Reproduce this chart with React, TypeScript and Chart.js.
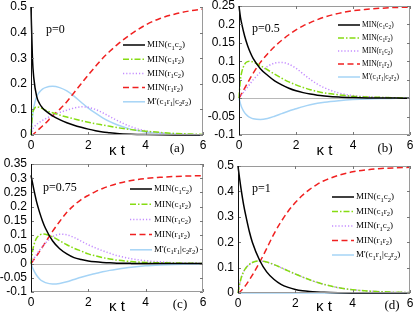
import React, { useEffect, useRef } from "react";
import { Chart, registerables } from "chart.js";
Chart.register(...registerables);

// ---- data ----
const kappaT = [0, 0.05, 0.1, 0.2, 0.3, 0.4, 0.5, 0.75, 1, 1.25, 1.5, 1.75, 2, 2.25, 2.5, 2.75, 3, 3.5, 4, 4.5, 5, 5.5, 6];

// p = 0
const p0_MIN_c1c2 = [0.5, 0.3, 0.22, 0.15, 0.122, 0.106, 0.095, 0.075, 0.06, 0.048, 0.038, 0.03, 0.023, 0.017, 0.012, 0.009, 0.006, 0.003, 0.0015, 0.0007, 0.0003, 0.0001, 0];
const p0_MIN_c1r2 = [0, 0.08, 0.1, 0.11, 0.108, 0.103, 0.097, 0.087, 0.078, 0.07, 0.063, 0.056, 0.05, 0.044, 0.039, 0.034, 0.029, 0.021, 0.015, 0.01, 0.006, 0.004, 0.002];
const p0_MIN_r1c2 = [0, 0.02, 0.03, 0.042, 0.05, 0.057, 0.063, 0.077, 0.088, 0.097, 0.105, 0.11, 0.108, 0.1, 0.087, 0.072, 0.057, 0.032, 0.016, 0.008, 0.004, 0.002, 0.001];
const p0_MIN_r1r2 = [0, 0, 0.005, 0.015, 0.025, 0.035, 0.045, 0.075, 0.1, 0.13, 0.165, 0.2, 0.235, 0.268, 0.3, 0.327, 0.352, 0.395, 0.43, 0.455, 0.472, 0.484, 0.492];
const p0_Mprime = [0, 0.07, 0.11, 0.15, 0.168, 0.179, 0.185, 0.19, 0.185, 0.172, 0.152, 0.128, 0.105, 0.085, 0.067, 0.052, 0.04, 0.022, 0.012, 0.007, 0.004, 0.002, 0.001];

// p = 0.5
const p05_MIN_c1c2 = [0.25, 0.22, 0.2, 0.168, 0.143, 0.123, 0.107, 0.08, 0.062, 0.047, 0.036, 0.027, 0.02, 0.015, 0.011, 0.008, 0.006, 0.003, 0.0015, 0.0007, 0.0003, 0.0001, 0];
const p05_MIN_c1r2 = [0, 0.05, 0.072, 0.092, 0.099, 0.1, 0.098, 0.088, 0.077, 0.065, 0.054, 0.044, 0.036, 0.029, 0.023, 0.018, 0.014, 0.009, 0.005, 0.003, 0.002, 0.001, 0.0005];
const p05_MIN_r1c2 = [0, 0.005, 0.01, 0.02, 0.03, 0.04, 0.05, 0.07, 0.086, 0.095, 0.097, 0.092, 0.081, 0.066, 0.051, 0.038, 0.028, 0.014, 0.007, 0.004, 0.002, 0.001, 0.0005];
const p05_MIN_r1r2 = [0, 0.006, 0.013, 0.027, 0.041, 0.055, 0.068, 0.097, 0.12, 0.14, 0.157, 0.172, 0.185, 0.196, 0.205, 0.213, 0.22, 0.23, 0.237, 0.241, 0.244, 0.246, 0.247];
const p05_Mprime = [0, -0.015, -0.026, -0.04, -0.048, -0.053, -0.056, -0.058, -0.055, -0.049, -0.042, -0.035, -0.029, -0.023, -0.018, -0.014, -0.011, -0.007, -0.004, -0.002, -0.001, -0.0005, 0];

// p = 0.75
const p075_MIN_c1c2 = [0.31, 0.285, 0.26, 0.215, 0.18, 0.15, 0.125, 0.08, 0.052, 0.034, 0.021, 0.014, 0.009, 0.006, 0.004, 0.0025, 0.0015, 0.0006, 0.0002, 0.0001, 0, 0, 0];
const p075_MIN_c1r2 = [0, 0.04, 0.065, 0.09, 0.1, 0.104, 0.103, 0.094, 0.08, 0.066, 0.054, 0.044, 0.034, 0.027, 0.021, 0.016, 0.012, 0.007, 0.004, 0.003, 0.002, 0.001, 0.0005];
const p075_MIN_r1c2 = [0, 0.008, 0.017, 0.033, 0.047, 0.06, 0.072, 0.094, 0.103, 0.101, 0.092, 0.079, 0.066, 0.055, 0.045, 0.036, 0.028, 0.017, 0.01, 0.006, 0.003, 0.002, 0.001];
const p075_MIN_r1r2 = [0, 0.007, 0.014, 0.028, 0.043, 0.058, 0.074, 0.113, 0.148, 0.18, 0.205, 0.225, 0.24, 0.253, 0.264, 0.273, 0.281, 0.292, 0.299, 0.303, 0.306, 0.308, 0.309];
const p075_Mprime = [0, -0.014, -0.025, -0.042, -0.054, -0.062, -0.067, -0.072, -0.07, -0.064, -0.056, -0.048, -0.041, -0.035, -0.029, -0.024, -0.02, -0.013, -0.008, -0.005, -0.003, -0.002, -0.001];

// p = 1
const p1_MIN_c1c2 = [0.5, 0.455, 0.415, 0.345, 0.29, 0.24, 0.2, 0.13, 0.083, 0.054, 0.034, 0.022, 0.014, 0.009, 0.006, 0.004, 0.0025, 0.001, 0.0004, 0.0002, 0.0001, 0, 0];
const p1_MIN_c1r2 = [0, 0.03, 0.055, 0.085, 0.102, 0.113, 0.12, 0.126, 0.122, 0.112, 0.1, 0.087, 0.075, 0.063, 0.052, 0.042, 0.034, 0.021, 0.013, 0.008, 0.005, 0.003, 0.002];
const p1_MIN_r1c2 = [0, 0.03, 0.055, 0.085, 0.102, 0.113, 0.12, 0.126, 0.122, 0.112, 0.1, 0.087, 0.075, 0.063, 0.052, 0.042, 0.034, 0.021, 0.013, 0.008, 0.005, 0.003, 0.002];
const p1_MIN_r1r2 = [0, 0.003, 0.008, 0.02, 0.035, 0.052, 0.07, 0.12, 0.175, 0.232, 0.28, 0.322, 0.356, 0.385, 0.408, 0.427, 0.442, 0.463, 0.477, 0.485, 0.49, 0.493, 0.495];
const p1_Mprime = [0, 0, 0, 0, 0, 0, 0, 0, 0, 0, 0, 0, 0, 0, 0, 0, 0, 0, 0, 0, 0, 0, 0];

const seriesLabels = ["MIN(c_1c_2)", "MIN(c_1r_2)", "MIN(r_1c_2)", "MIN(r_1r_2)", "M'(c_1r_1|c_2r_2)"];
const pLabels = ["p=0", "p=0.5", "p=0.75", "p=1"];
const panelLetters = ["(a)", "(b)", "(c)", "(d)"];
const xAxisTitle = "κ t";

// ---- styles ----
const seriesColors = ["#000000", "#86dc12", "#c48cff", "#f02020", "#a6d4f6"];
const seriesDash: number[][] = [[], [6, 2, 1.5, 2], [1.2, 2], [6, 3.5], []];

const SANS = '"Liberation Sans", Arial, Helvetica, sans-serif';
const SERIF = '"Liberation Serif", "Times New Roman", Times, serif';

type Panel = {
  series: number[][];
  yMin: number; yMax: number; yStep: number; zeroLine: boolean; topBorder: boolean;
  box: { x: number; y: number; w: number; h: number };
  area: { l: number; t: number; r: number; b: number };
  legend: { x: number; y: number; dy: number; size: number };
  pPos: { x: number; y: number };
  letterPos: { x: number; y: number };
  titleY: number;
  idx: number;
};

const panels: Panel[] = [
  {
    idx: 0,
    series: [p0_MIN_c1c2, p0_MIN_c1r2, p0_MIN_r1c2, p0_MIN_r1r2, p0_Mprime],
    yMin: 0, yMax: 0.5, yStep: 0.1, zeroLine: false, topBorder: false,
    box: { x: 0, y: 0, w: 207, h: 158 },
    area: { l: 31, t: 7, r: 203, b: 135 },
    legend: { x: 123, y: 45, dy: 14.2, size: 9 },
    pPos: { x: 46, y: 30 },
    letterPos: { x: 177, y: 149 },
    titleY: 151,
  },
  {
    idx: 1,
    series: [p05_MIN_c1c2, p05_MIN_c1r2, p05_MIN_r1c2, p05_MIN_r1r2, p05_Mprime],
    yMin: -0.1, yMax: 0.25, yStep: 0.05, zeroLine: true, topBorder: true,
    box: { x: 207, y: 0, w: 208, h: 158 },
    area: { l: 239, t: 6, r: 410, b: 135 },
    legend: { x: 338, y: 25, dy: 13, size: 7.5 },
    pPos: { x: 252, y: 29 },
    letterPos: { x: 385, y: 149 },
    titleY: 151,
  },
  {
    idx: 2,
    series: [p075_MIN_c1c2, p075_MIN_c1r2, p075_MIN_r1c2, p075_MIN_r1r2, p075_Mprime],
    yMin: -0.1, yMax: 0.35, yStep: 0.05, zeroLine: true, topBorder: true,
    box: { x: 0, y: 158, w: 207, h: 159 },
    area: { l: 31, t: 164, r: 203, b: 292 },
    legend: { x: 130, y: 189, dy: 15.2, size: 9 },
    pPos: { x: 43, y: 188 },
    letterPos: { x: 180, y: 305 },
    titleY: 307,
  },
  {
    idx: 3,
    series: [p1_MIN_c1c2, p1_MIN_c1r2, p1_MIN_r1c2, p1_MIN_r1r2, p1_Mprime],
    yMin: 0, yMax: 0.5, yStep: 0.1, zeroLine: false, topBorder: true,
    box: { x: 207, y: 158, w: 208, h: 159 },
    area: { l: 238, t: 166, r: 410, b: 293 },
    legend: { x: 332, y: 197, dy: 14.5, size: 9 },
    pPos: { x: 252, y: 189 },
    letterPos: { x: 392, y: 306 },
    titleY: 307,
  },
];

function parseRich(text: string): [string, boolean][] {
  const out: [string, boolean][] = [];
  let buf = "";
  for (let i = 0; i < text.length; i++) {
    if (text[i] === "_" && i + 1 < text.length) {
      if (buf) out.push([buf, false]);
      buf = "";
      out.push([text[i + 1], true]);
      i++;
    } else buf += text[i];
  }
  if (buf) out.push([buf, false]);
  return out;
}

function drawRich(ctx: CanvasRenderingContext2D, text: string, x: number, y: number, size: number) {
  let cx = x;
  for (const [s, sub] of parseRich(text)) {
    const fs = sub ? size * 0.72 : size;
    ctx.font = `${fs}px ${SERIF}`;
    ctx.fillText(s, cx, sub ? y + size * 0.32 : y);
    cx += ctx.measureText(s).width;
  }
}

function PanelChart({ panel }: { panel: Panel }) {
  const ref = useRef<HTMLCanvasElement>(null);
  useEffect(() => {
    const canvas = ref.current!;
    const { box, area } = panel;
    const overlay = {
      id: "overlay" + panel.idx,
      beforeDatasetsDraw(chart: any) {
        if (!panel.zeroLine) return;
        const { ctx, chartArea } = chart;
        const y0 = Math.round(chart.scales.y.getPixelForValue(0)) + 0.5;
        ctx.save();
        ctx.strokeStyle = "#b8b8b8";
        ctx.lineWidth = 1;
        ctx.beginPath();
        ctx.moveTo(chartArea.left, y0);
        ctx.lineTo(chartArea.right, y0);
        ctx.stroke();
        ctx.restore();
      },
      afterDatasetsDraw(chart: any) {
        const { ctx, chartArea } = chart;
        const { left, right, top, bottom } = chartArea;
        ctx.save();
        ctx.lineWidth = 1;
        ctx.strokeStyle = "#9a9a9a";
        ctx.beginPath();
        if (panel.topBorder) {
          ctx.moveTo(left, top + 0.5);
          ctx.lineTo(right - 0.5, top + 0.5);
        } else {
          ctx.moveTo(right - 0.5, top);
        }
        ctx.lineTo(right - 0.5, bottom - 0.5);
        ctx.lineTo(left, bottom - 0.5);
        ctx.stroke();
        // ticks
        ctx.strokeStyle = "#777";
        const ys = chart.scales.y;
        ys.ticks.forEach((t: any) => {
          const py = Math.round(ys.getPixelForValue(t.value)) + 0.5;
          ctx.beginPath();
          ctx.moveTo(left, py); ctx.lineTo(left + 3, py);
          ctx.moveTo(right, py); ctx.lineTo(right - 3, py);
          ctx.stroke();
        });
        const xs = chart.scales.x;
        xs.ticks.forEach((t: any) => {
          const px = Math.round(xs.getPixelForValue(t.value)) + 0.5;
          ctx.beginPath();
          ctx.moveTo(px, bottom); ctx.lineTo(px, bottom - 3);
          if (panel.topBorder) { ctx.moveTo(px, top); ctx.lineTo(px, top + 3); }
          ctx.stroke();
        });
        ctx.strokeStyle = "#111";
        ctx.beginPath();
        ctx.moveTo(left + 0.5, top);
        ctx.lineTo(left + 0.5, bottom);
        ctx.stroke();
        ctx.restore();
      },
      afterDraw(chart: any) {
        const { ctx } = chart;
        const ox = box.x, oy = box.y;
        ctx.save();
        ctx.fillStyle = "#000";
        ctx.textBaseline = "middle";
        ctx.textAlign = "left";
        // legend
        const L = panel.legend;
        chart.data.datasets.forEach((ds: any, i: number) => {
          const y = L.y + i * L.dy - oy;
          const x = L.x - ox;
          ctx.save();
          ctx.strokeStyle = ds.borderColor;
          ctx.lineWidth = 1.5;
          ctx.setLineDash(ds.borderDash || []);
          ctx.beginPath();
          ctx.moveTo(x, y);
          ctx.lineTo(x + 22, y);
          ctx.stroke();
          ctx.restore();
          drawRich(ctx, seriesLabels[i], x + 24, y, L.size);
        });
        ctx.font = `12px ${SERIF}`;
        ctx.fillText(pLabels[panel.idx], panel.pPos.x - ox, panel.pPos.y - oy);
        ctx.textAlign = "center";
        ctx.font = `13px ${SERIF}`;
        ctx.fillText(panelLetters[panel.idx], panel.letterPos.x - ox, panel.letterPos.y - oy);
        ctx.restore();
      },
    };
    const chart = new Chart(canvas, {
      type: "line",
      data: {
        datasets: panel.series.map((vals, i) => ({
          label: seriesLabels[i],
          data: kappaT.map((t, j) => ({ x: t, y: vals[j] })),
          borderColor: seriesColors[i],
          backgroundColor: seriesColors[i],
          borderDash: seriesDash[i],
          borderWidth: 1.5,
          pointRadius: 0,
          cubicInterpolationMode: "monotone",
          fill: false,
          clip: 1,
        })),
      },
      options: {
        responsive: false,
        animation: false,
        events: [],
        layout: { padding: { left: 0, top: area.t - box.y, right: box.x + box.w - area.r, bottom: 0 } },
        plugins: { legend: { display: false }, tooltip: { enabled: false } },
        scales: {
          x: {
            type: "linear",
            min: 0,
            max: 6,
            grid: { display: false, drawTicks: false },
            border: { display: false },
            ticks: { stepSize: 2, padding: 3, color: "#000", autoSkip: false, maxRotation: 0, font: { family: SANS, size: 12 } },
            title: {
              display: true,
              text: xAxisTitle,
              color: "#000",
              font: { family: SANS, size: 15, lineHeight: 1 },
              padding: { top: 0, bottom: box.y + box.h - panel.titleY - 7.5 },
            },
            afterFit(s: any) {
              s.height = box.y + box.h - area.b;
              s.paddingLeft = 0;
              s.paddingRight = 0;
            },
          },
          y: {
            type: "linear",
            min: panel.yMin,
            max: panel.yMax,
            grid: { display: false, drawTicks: false },
            border: { display: false },
            ticks: {
              stepSize: panel.yStep,
              padding: 4,
              color: "#000",
              autoSkip: false,
              font: { family: SANS, size: 12 },
              callback: (v: any) => String(+Number(v).toFixed(2)),
            },
            afterFit(s: any) {
              s.width = area.l - box.x;
              s.paddingTop = 0;
              s.paddingBottom = 0;
            },
          },
        },
      } as any,
      plugins: [overlay],
    });
    return () => chart.destroy();
  }, [panel]);
  return (
    <canvas
      ref={ref}
      width={panel.box.w}
      height={panel.box.h}
      style={{ position: "absolute", left: panel.box.x, top: panel.box.y, width: panel.box.w, height: panel.box.h }}
    />
  );
}

export default function App() {
  return (
    <div style={{ position: "fixed", left: 0, top: 0, width: 415, height: 317, background: "#fff", overflow: "hidden" }}>
      {panels.map((p) => (
        <PanelChart key={p.idx} panel={p} />
      ))}
    </div>
  );
}
